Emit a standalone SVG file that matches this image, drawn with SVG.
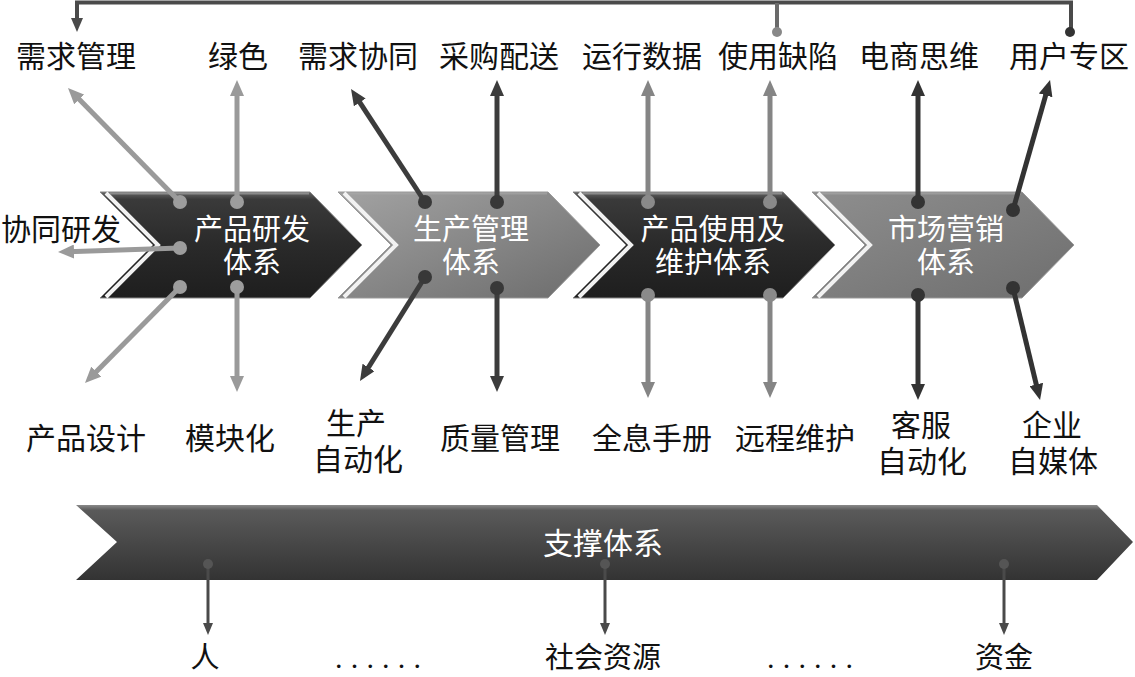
<svg xmlns="http://www.w3.org/2000/svg" width="1135" height="677" viewBox="0 0 1135 677">
<style>
.t{font-family:"Noto Sans CJK SC","Noto Sans",sans-serif;font-size:30px;fill:#111;text-anchor:middle}
.w{font-family:"Noto Sans CJK SC","Noto Sans",sans-serif;font-size:29px;fill:#fff;text-anchor:middle}
.bev{fill:none;stroke:#f2f2f2;stroke-width:4}
.top{fill:none;stroke:#aaa;stroke-width:2;opacity:.6}
.la{stroke:#9a9a9a;stroke-width:5;fill:none;marker-end:url(#mA)}
.lb{stroke:#3c3c3c;stroke-width:5;fill:none;marker-end:url(#mB)}
.lc{stroke:#858585;stroke-width:5;fill:none;marker-end:url(#mC)}
.ld{stroke:#333;stroke-width:5;fill:none;marker-end:url(#mD)}
.le{stroke:#4a4a4a;stroke-width:3;fill:none;marker-end:url(#mE)}
</style>
<defs>
<linearGradient id="gDark" x1="0" y1="0" x2="0" y2="1">
<stop offset="0" stop-color="#666"/><stop offset="0.07" stop-color="#3a3a3a"/><stop offset="0.5" stop-color="#2a2a2a"/><stop offset="1" stop-color="#1e1e1e"/>
</linearGradient>
<linearGradient id="gMid" x1="0" y1="0" x2="1" y2="1">
<stop offset="0" stop-color="#a2a2a2"/><stop offset="1" stop-color="#6c6c6c"/>
</linearGradient>
<linearGradient id="gMid2" x1="0" y1="0" x2="1" y2="1">
<stop offset="0" stop-color="#8e8e8e"/><stop offset="1" stop-color="#6e6e6e"/>
</linearGradient>
<linearGradient id="gBan" x1="0" y1="0" x2="0" y2="1">
<stop offset="0" stop-color="#8a8a8a"/><stop offset="0.07" stop-color="#5a5a5a"/><stop offset="0.45" stop-color="#4a4a4a"/><stop offset="1" stop-color="#333"/>
</linearGradient>
<marker id="mA" markerWidth="16" markerHeight="14" refX="6" refY="7" orient="auto" markerUnits="userSpaceOnUse"><path d="M0,0 L16,7 L0,14 Z" fill="#9a9a9a"/></marker>
<marker id="mB" markerWidth="16" markerHeight="14" refX="6" refY="7" orient="auto" markerUnits="userSpaceOnUse"><path d="M0,0 L16,7 L0,14 Z" fill="#3c3c3c"/></marker>
<marker id="mC" markerWidth="16" markerHeight="14" refX="6" refY="7" orient="auto" markerUnits="userSpaceOnUse"><path d="M0,0 L16,7 L0,14 Z" fill="#858585"/></marker>
<marker id="mD" markerWidth="16" markerHeight="14" refX="6" refY="7" orient="auto" markerUnits="userSpaceOnUse"><path d="M0,0 L16,7 L0,14 Z" fill="#333"/></marker>
<marker id="mE" markerWidth="12" markerHeight="10" refX="4" refY="5" orient="auto" markerUnits="userSpaceOnUse"><path d="M0,0 L12,5 L0,10 Z" fill="#4a4a4a"/></marker>
<marker id="mF" markerWidth="14" markerHeight="12" refX="5" refY="6" orient="auto" markerUnits="userSpaceOnUse"><path d="M0,0 L14,6 L0,12 Z" fill="#4a4a4a"/></marker>
</defs>
<rect width="1135" height="677" fill="#fff"/>

<g id="chevron-rd">
<polygon points="100,192 310,192 362,245 310,298 100,298 153,245" fill="url(#gDark)" stroke="#888" stroke-width="1"/>
<polyline class="bev" points="106,193 158,245 106,297"/>
<polyline class="top" points="110,193.5 309,193.5"/>
<text class="w" x="252" y="240">产品研发</text>
<text class="w" x="252" y="273">体系</text>
</g>
<g id="chevron-prod">
<polygon points="338,192 548,192 600,245 548,298 338,298 391,245" fill="url(#gMid)" stroke="#999" stroke-width="1"/>
<polyline class="bev" points="344,193 396,245 344,297"/>
<polyline class="top" points="348,193.5 547,193.5"/>
<text class="w" x="471" y="240">生产管理</text>
<text class="w" x="471" y="273">体系</text>
</g>
<g id="chevron-use">
<polygon points="573,192 783,192 835,245 783,298 573,298 626,245" fill="url(#gDark)" stroke="#888" stroke-width="1"/>
<polyline class="bev" points="579,193 631,245 579,297"/>
<polyline class="top" points="583,193.5 782,193.5"/>
<text class="w" x="713" y="240">产品使用及</text>
<text class="w" x="713" y="273">维护体系</text>
</g>
<g id="chevron-mkt">
<polygon points="812,192 1022,192 1074,245 1022,298 812,298 865,245" fill="url(#gMid2)" stroke="#999" stroke-width="1"/>
<polyline class="bev" points="818,193 870,245 818,297"/>
<polyline class="top" points="822,193.5 1021,193.5"/>
<text class="w" x="946" y="240">市场营销</text>
<text class="w" x="946" y="273">体系</text>
</g>
<g id="support">
<polygon points="76,505 1097,505 1133,542 1097,580 76,580 117,542" fill="url(#gBan)"/>
<text class="w" x="603" y="554" style="font-size:30px">支撑体系</text>
</g>

<g id="connectors">
<path d="M77,23 V2.5 H1071 V30" fill="none" stroke="#4a4a4a" stroke-width="4" marker-end="none"/>
<path d="M77,4 V23" fill="none" stroke="#4a4a4a" stroke-width="4" marker-end="url(#mF)"/>
<path d="M777,3 V30" fill="none" stroke="#6a6a6a" stroke-width="4"/>
<circle cx="777" cy="32" r="5" fill="#888"/>
<circle cx="1070" cy="32" r="5" fill="#333"/>

<line class="la" x1="180" y1="202" x2="75" y2="95.1"/>
<line class="la" x1="237" y1="202" x2="237" y2="90"/>
<line class="la" x1="180" y1="248" x2="68" y2="251.7"/>
<line class="la" x1="180" y1="287" x2="92" y2="375.9"/>
<line class="la" x1="237" y1="287" x2="237" y2="382"/>
<g fill="#9d9d9d"><circle cx="180" cy="202" r="7"/><circle cx="237" cy="202" r="7"/><circle cx="180" cy="248" r="7"/><circle cx="180" cy="287" r="7"/><circle cx="237" cy="287" r="7"/></g>

<line class="lb" x1="425" y1="202" x2="356.5" y2="97.4"/>
<line class="lb" x1="497" y1="202" x2="497" y2="90"/>
<line class="lb" x1="425" y1="277" x2="365.3" y2="372.5"/>
<line class="lb" x1="497" y1="288" x2="497" y2="382"/>
<g fill="#383838"><circle cx="425" cy="202" r="7"/><circle cx="497" cy="202" r="7"/><circle cx="425" cy="277" r="7"/><circle cx="497" cy="288" r="7"/></g>

<line class="lc" x1="648" y1="202" x2="648" y2="90"/>
<line class="lc" x1="770" y1="202" x2="770" y2="90"/>
<line class="lc" x1="648" y1="295" x2="648" y2="388"/>
<line class="lc" x1="770" y1="295" x2="770" y2="388"/>
<g fill="#8a8a8a"><circle cx="648" cy="202" r="7"/><circle cx="770" cy="202" r="7"/><circle cx="648" cy="295" r="7"/><circle cx="770" cy="295" r="7"/></g>

<line class="ld" x1="918" y1="202" x2="918" y2="90"/>
<line class="ld" x1="1013" y1="210" x2="1047.3" y2="89.6"/>
<line class="ld" x1="918" y1="295" x2="918" y2="390"/>
<line class="ld" x1="1013" y1="288" x2="1037.7" y2="390.3"/>
<g fill="#333"><circle cx="918" cy="202" r="7"/><circle cx="1013" cy="210" r="7"/><circle cx="918" cy="295" r="7"/><circle cx="1013" cy="288" r="7"/></g>

<line class="le" x1="208" y1="563" x2="208" y2="627"/>
<line class="le" x1="605" y1="563" x2="605" y2="627"/>
<line class="le" x1="1004" y1="563" x2="1004" y2="627"/>
<g fill="#555"><circle cx="208" cy="564" r="5"/><circle cx="605" cy="564" r="5"/><circle cx="1004" cy="564" r="5"/></g>
</g>

<g id="lbl-top-1"><text class="t" x="76" y="67">需求管理</text></g>
<g id="lbl-top-2"><text class="t" x="238" y="67">绿色</text></g>
<g id="lbl-top-3"><text class="t" x="358" y="67">需求协同</text></g>
<g id="lbl-top-4"><text class="t" x="499" y="67">采购配送</text></g>
<g id="lbl-top-5"><text class="t" x="642" y="67">运行数据</text></g>
<g id="lbl-top-6"><text class="t" x="778" y="67">使用缺陷</text></g>
<g id="lbl-top-7"><text class="t" x="919" y="67">电商思维</text></g>
<g id="lbl-top-8"><text class="t" x="1069" y="67">用户专区</text></g>
<g id="lbl-left"><text class="t" x="1" y="240" style="text-anchor:start">协同研发</text></g>

<g id="lbl-bot-1"><text class="t" x="86" y="449">产品设计</text></g>
<g id="lbl-bot-2"><text class="t" x="230" y="449">模块化</text></g>
<g id="lbl-bot-3"><text class="t" x="356" y="434">生产</text><text class="t" x="358" y="470">自动化</text></g>
<g id="lbl-bot-4"><text class="t" x="500" y="449">质量管理</text></g>
<g id="lbl-bot-5"><text class="t" x="652" y="449">全息手册</text></g>
<g id="lbl-bot-6"><text class="t" x="795" y="449">远程维护</text></g>
<g id="lbl-bot-7"><text class="t" x="921" y="436">客服</text><text class="t" x="922" y="472">自动化</text></g>
<g id="lbl-bot-8"><text class="t" x="1052" y="436">企业</text><text class="t" x="1053" y="472">自媒体</text></g>

<g id="lbl-res-1"><text class="t" x="205" y="668" style="font-size:29px">人</text></g>
<g id="lbl-res-2"><text class="t" x="335" y="668" style="text-anchor:start;font-family:'Liberation Serif',serif;letter-spacing:8.2px">......</text></g>
<g id="lbl-res-3"><text class="t" x="603" y="668" style="font-size:29px">社会资源</text></g>
<g id="lbl-res-4"><text class="t" x="767" y="668" style="text-anchor:start;font-family:'Liberation Serif',serif;letter-spacing:8.2px">......</text></g>
<g id="lbl-res-5"><text class="t" x="1004" y="668" style="font-size:29px">资金</text></g>
</svg>
